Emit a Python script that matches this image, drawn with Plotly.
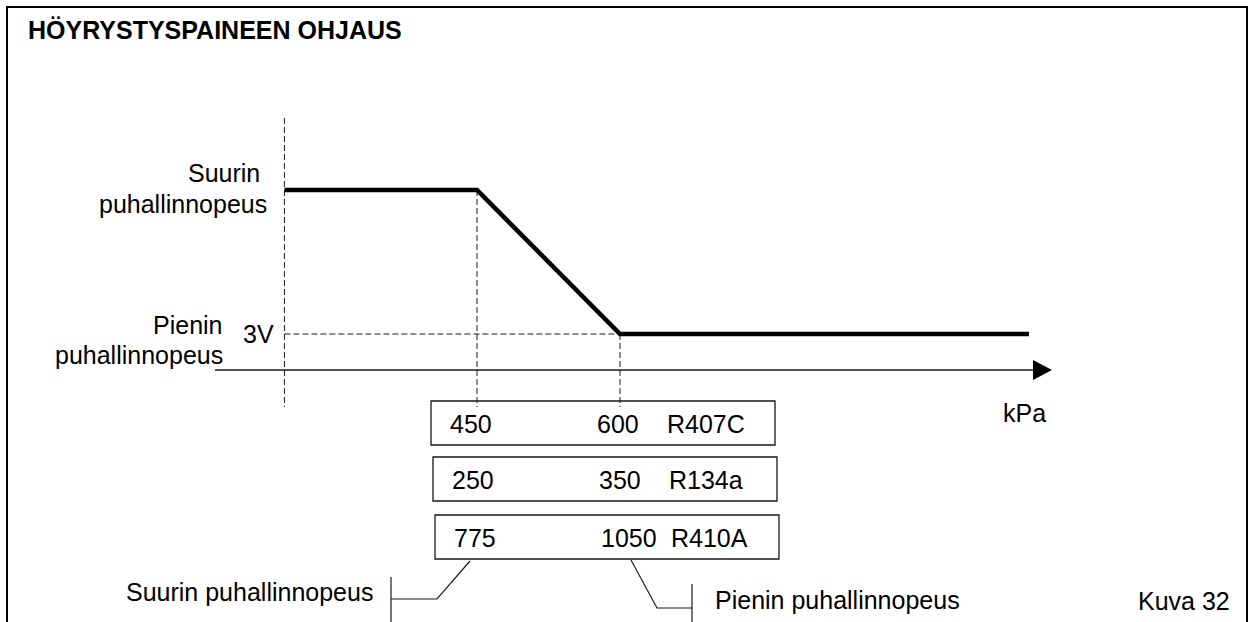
import plotly.graph_objects as go

W, H = 1248, 622

# Refrigerant table: evaporating pressure (kPa) where the fan leaves full speed
# and where it reaches its minimum speed.
refrigerants = ["R407C", "R134a", "R410A"]
p_full_speed_kpa = [450, 250, 775]
p_min_speed_kpa = [600, 350, 1050]

# Control curve, drawn on the R407C pressure scale.
# Relative fan level: 5 = suurin puhallinnopeus, 1 = pienin puhallinnopeus (3V).
curve_kpa = [248, p_full_speed_kpa[0], p_min_speed_kpa[0], 1029]
curve_level = [5, 5, 1, 1]
min_level_label = "3V"

# --- layout geometry (pixels) -------------------------------------------
AXIS_Y_PX = 370          # pixel row of the horizontal kPa axis
PX_PER_LEVEL = 36
PX_450, PX_600 = 477, 620
PX_PER_KPA = (PX_600 - PX_450) / (p_min_speed_kpa[0] - p_full_speed_kpa[0])

def kpa_at(xpx):
    return p_full_speed_kpa[0] + (xpx - PX_450) / PX_PER_KPA

def level_at(ypx):
    return (AXIS_Y_PX - ypx) / PX_PER_LEVEL

def px(x):
    return x / W

def py(y):
    return 1 - y / H

FONT = "Arial, Liberation Sans, sans-serif"
FS = 25
INK = "#000000"
LINE = "#1a1a1a"

fig = go.Figure()

# guide lines (dashed)
dash = "6px,3px"
guide_bottom = level_at(407)
guides = [
    ([curve_kpa[0], curve_kpa[0]], [level_at(118), guide_bottom]),
    ([curve_kpa[1], curve_kpa[1]], [curve_level[1], guide_bottom]),
    ([curve_kpa[2], curve_kpa[2]], [curve_level[2], guide_bottom]),
    ([curve_kpa[0], curve_kpa[2]], [curve_level[2], curve_level[2]]),
]
for gx, gy in guides:
    fig.add_trace(go.Scatter(x=gx, y=gy, mode="lines",
                             line=dict(color=LINE, width=1, dash=dash),
                             hoverinfo="skip"))

# kPa axis
axis_end = kpa_at(1040)
fig.add_trace(go.Scatter(x=[kpa_at(215), axis_end], y=[0, 0], mode="lines",
                         line=dict(color=LINE, width=1.6), hoverinfo="skip"))
fig.add_shape(type="path", xref="x", yref="y", xsizemode="pixel", ysizemode="pixel",
              xanchor=kpa_at(1052), yanchor=0,
              path="M-19,-10 L0,0 L-19,10 Z",
              fillcolor=INK, line=dict(color=INK, width=0))

# fan speed control curve
fig.add_trace(go.Scatter(x=curve_kpa, y=curve_level, mode="lines",
                         line=dict(color=INK, width=4.5),
                         hoverinfo="x+y"))

# outer frame
fig.add_shape(type="rect", xref="paper", yref="paper",
              x0=px(7), y0=py(660), x1=px(1247), y1=py(7),
              line=dict(color=INK, width=2), fillcolor="rgba(0,0,0,0)")

annotations = []

def label(text, x, baseline, anchor="left", bold=False, size=FS):
    annotations.append(dict(
        text=f"<b>{text}</b>" if bold else text,
        x=px(x), y=py(baseline - 0.3465 * size),
        xref="paper", yref="paper", xanchor=anchor, yanchor="middle",
        showarrow=False, borderpad=0,
        font=dict(family=FONT, size=size, color=INK)))

label("HÖYRYSTYSPAINEEN OHJAUS", 27, 39, bold=True)
label("Suurin", 261, 182, "right")
label("puhallinnopeus", 268, 213, "right")
label("Pienin", 224, 334, "right")
label("puhallinnopeus", 224, 364, "right")
label(min_level_label, 242, 343)
label("kPa", 1002, 422)

# refrigerant boxes
box_left = [431, 433, 435]
box_top = [401, 457, 515]
BOX_W, BOX_H = 344, 44
for i, name in enumerate(refrigerants):
    x0, y0 = box_left[i], box_top[i]
    fig.add_shape(type="rect", xref="paper", yref="paper",
                  x0=px(x0), y0=py(y0 + BOX_H), x1=px(x0 + BOX_W), y1=py(y0),
                  line=dict(color=LINE, width=1.3), fillcolor="rgba(0,0,0,0)")
    base = y0 + 32
    label(str(p_full_speed_kpa[i]), x0 + 18, base)
    label(str(p_min_speed_kpa[i]), x0 + 165, base)
    label(name, x0 + 235, base)

# leader lines to the bottom captions
for pts in ([(470, 561), (437, 599), (391, 599)],
            [(391, 577), (391, 640)],
            [(631, 560), (657, 608), (692, 608)],
            [(692, 584), (692, 640)]):
    path = "M" + " L".join(f"{px(a)},{py(b)}" for a, b in pts)
    fig.add_shape(type="path", xref="paper", yref="paper", path=path,
                  line=dict(color=LINE, width=1.2))

label("Suurin puhallinnopeus", 125, 601)
label("Pienin puhallinnopeus", 714, 609)
label("Kuva 32", 1137, 610)

fig.update_layout(
    width=W, height=H,
    margin=dict(l=0, r=0, t=0, b=0),
    paper_bgcolor="white", plot_bgcolor="white",
    showlegend=False,
    xaxis=dict(range=[kpa_at(0), kpa_at(W)], visible=False, fixedrange=True),
    yaxis=dict(range=[level_at(H), level_at(0)], visible=False, fixedrange=True),
    annotations=annotations,
)

fig.write_html("out.html", config={"displayModeBar": False})
